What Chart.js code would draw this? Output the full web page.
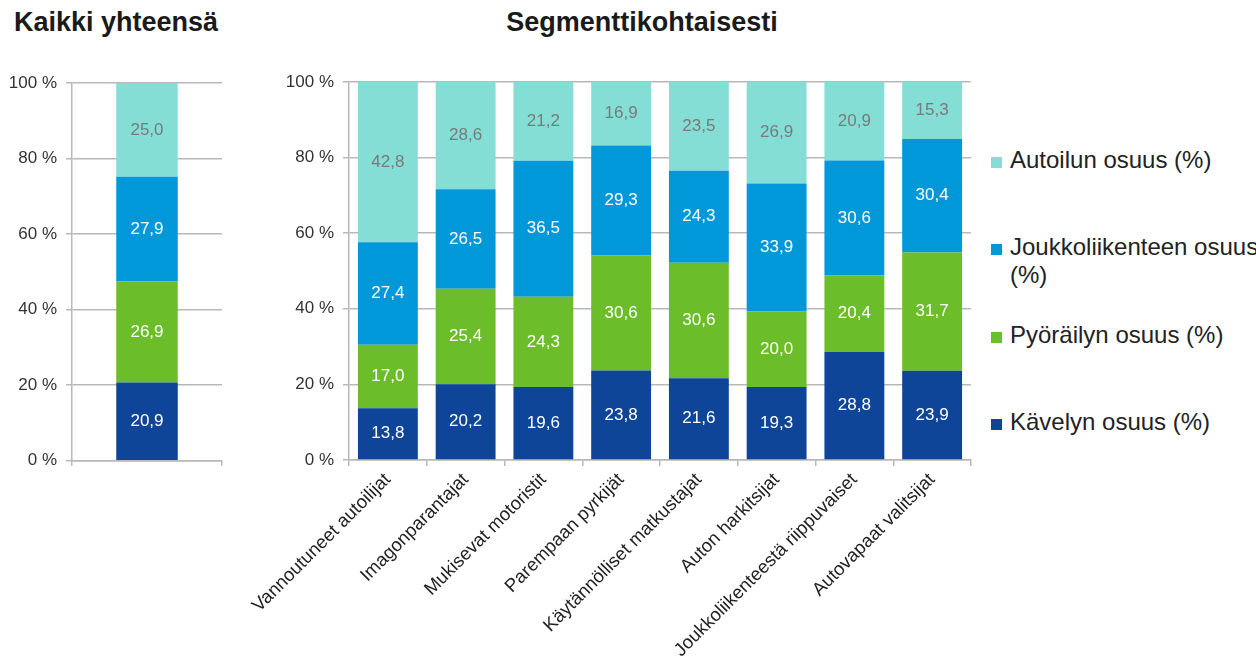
<!DOCTYPE html>
<html>
<head>
<meta charset="utf-8">
<script src="https://cdn.jsdelivr.net/npm/chart.js@4"></script>
<style>
  html, body { margin: 0; padding: 0; background: #fff; overflow: hidden; }
  body { width: 1256px; height: 662px; position: relative; font-family: "Liberation Sans", Arial, sans-serif; color: #222; }
  .title { position: absolute; top: 7px; font-weight: bold; font-size: 27px; color: #1a1a1a; white-space: nowrap; }
  #titleTotal { left: 14px; }
  #titleSeg { left: 642px; transform: translateX(-50%); }
  canvas { position: absolute; }
  #totalChart { left: 0; top: 60px; }
  #segChart { left: 200px; top: 60px; }
  #legend { position: absolute; left: 991px; top: 146px; width: 290px; }
  .item { height: 87.3px; display: flex; align-items: flex-start; }
  .box { width: 11px; height: 11px; margin-top: 11px; margin-right: 8px; flex: none; }
  .label { font-size: 24px; line-height: 28px; width: 266px; color: #222; }
</style>
</head>
<body>
<div class="title" id="titleTotal">Kaikki yhteensä</div>
<div class="title" id="titleSeg">Segmenttikohtaisesti</div>
<canvas id="totalChart" width="240" height="420"></canvas>
<canvas id="segChart" width="790" height="602"></canvas>
<div id="legend"></div>

<script>
// series, bottom to top
const seriesNames = ["Kävelyn osuus (%)", "Pyöräilyn osuus (%)", "Joukkoliikenteen osuus (%)", "Autoilun osuus (%)"];
const seriesColors = ["#0e4598", "#6bbd29", "#0098d9", "#84ded6"];
const valueColors = ["#ffffff", "#ffffff", "#ffffff", "#7a7a7a"];

// all respondents
const totalCategories = ["Kaikki yhteensä"];
const totalWalk = [20.9];
const totalBike = [26.9];
const totalTransit = [27.9];
const totalCar = [25.0];

// per segment
const segments = [
  "Vannoutuneet autoilijat",
  "Imagonparantajat",
  "Mukisevat motoristit",
  "Parempaan pyrkijät",
  "Käytännölliset matkustajat",
  "Auton harkitsijat",
  "Joukkoliikenteestä riippuvaiset",
  "Autovapaat valitsijat"
];
const segWalk = [13.8, 20.2, 19.6, 23.8, 21.6, 19.3, 28.8, 23.9];
const segBike = [17.0, 25.4, 24.3, 30.6, 30.6, 20.0, 20.4, 31.7];
const segTransit = [27.4, 26.5, 36.5, 29.3, 24.3, 33.9, 30.6, 30.4];
const segCar = [42.8, 28.6, 21.2, 16.9, 23.5, 26.9, 20.9, 15.3];

const yTicks = [0, 20, 40, 60, 80, 100];

const FONT = "'Liberation Sans', Arial, sans-serif";
const gridColor = "#b8b8b8";

// 100 % stacked: each column is scaled so its shares fill the axis,
// the labels keep the reported values
function percentOfColumn(series) {
  const sums = series[0].map((_, j) => series.reduce((s, arr) => s + arr[j], 0));
  return series.map((arr) => arr.map((v, j) => (v / sums[j]) * 100));
}

// writes each segment's reported value in the middle of its bar part
const valueLabels = {
  id: "valueLabels",
  afterDatasetsDraw(chart) {
    const { ctx, chartArea } = chart;
    ctx.save();
    ctx.font = "17px " + FONT;
    ctx.textAlign = "center";
    ctx.textBaseline = "middle";
    chart.data.datasets.forEach((ds, i) => {
      const meta = chart.getDatasetMeta(i);
      meta.data.forEach((bar, j) => {
        const { x, y, base } = bar.getProps(["x", "y", "base"], true);
        const top = Math.max(y, chartArea.top);
        const bottom = Math.min(base, chartArea.bottom);
        ctx.fillStyle = valueColors[i];
        ctx.fillText(ds.reported[j].toFixed(1).replace(".", ","), x, (top + bottom) / 2);
      });
    });
    ctx.restore();
  }
};

function makeDatasets(values, barPct) {
  const shares = percentOfColumn(values);
  return values.map((data, i) => ({
    label: seriesNames[i],
    data: shares[i],
    reported: data,
    backgroundColor: seriesColors[i],
    borderWidth: 0,
    barPercentage: barPct,
    categoryPercentage: 1
  }));
}

function yAxis(width) {
  return {
    stacked: true,
    min: 0,
    max: 100,
    afterBuildTicks: (scale) => { scale.ticks = yTicks.map((v) => ({ value: v })); },
    afterFit: (scale) => { scale.width = width; },
    ticks: {
      color: "#333",
      font: { family: FONT, size: 17 },
      padding: 9,
      callback: (v) => v + " %"
    },
    grid: { color: gridColor, lineWidth: 1.5, tickLength: 6 },
    border: { color: gridColor, width: 1.5 }
  };
}

new Chart(document.getElementById("totalChart"), {
  type: "bar",
  data: {
    labels: totalCategories,
    datasets: makeDatasets([totalWalk, totalBike, totalTransit, totalCar], 0.41)
  },
  options: {
    responsive: false,
    animation: false,
    layout: { padding: { top: 23, right: 18, left: 0, bottom: 0 } },
    plugins: { legend: { display: false }, tooltip: { enabled: false } },
    scales: {
      x: {
        stacked: true,
        afterFit: (scale) => { scale.height = 19; },
        ticks: { display: false },
        grid: { drawOnChartArea: false, color: gridColor, lineWidth: 1.5, tickLength: 5 },
        border: { color: gridColor, width: 1.5 }
      },
      y: yAxis(72)
    }
  },
  plugins: [valueLabels]
});

new Chart(document.getElementById("segChart"), {
  type: "bar",
  data: {
    labels: segments,
    datasets: makeDatasets([segWalk, segBike, segTransit, segCar], 0.77)
  },
  options: {
    responsive: false,
    animation: false,
    layout: { padding: { top: 22, right: 19, left: 0, bottom: 0 } },
    plugins: { legend: { display: false }, tooltip: { enabled: false } },
    scales: {
      x: {
        stacked: true,
        afterFit: (scale) => { scale.height = 202; },
        ticks: {
          color: "#222",
          font: { family: FONT, size: 18.5 },
          minRotation: 45,
          maxRotation: 45,
          autoSkip: false,
          padding: 3
        },
        grid: { drawOnChartArea: false, color: gridColor, lineWidth: 1.5, tickLength: 6 },
        border: { color: gridColor, width: 1.5 }
      },
      y: yAxis(149)
    }
  },
  plugins: [valueLabels]
});

// legend, top entry first
const legend = document.getElementById("legend");
for (let i = seriesNames.length - 1; i >= 0; i--) {
  const item = document.createElement("div");
  item.className = "item";
  const box = document.createElement("div");
  box.className = "box";
  box.style.background = seriesColors[i];
  const label = document.createElement("div");
  label.className = "label";
  label.textContent = seriesNames[i];
  item.appendChild(box);
  item.appendChild(label);
  legend.appendChild(item);
}
</script>
</body>
</html>
